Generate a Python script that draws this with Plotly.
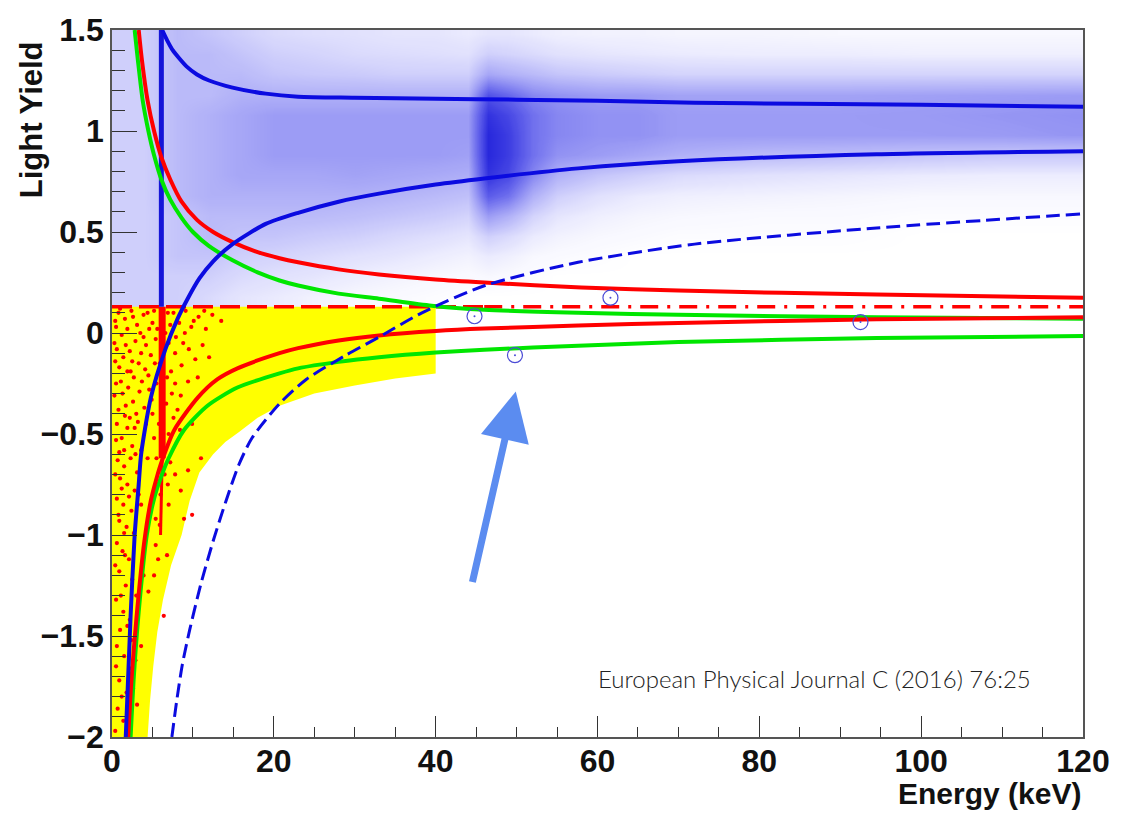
import numpy as np
import plotly.graph_objects as go

# ---------------- data ----------------
# blue event cloud (density, 0..10) above the 0.13 cut
cloud_x = [1, 4, 8, 12, 16, 20, 25, 30, 35, 40, 44, 46.5, 49, 52, 55, 60, 65, 70, 80, 90, 100, 110, 119]
cloud_y = [0.18, 0.28, 0.38, 0.48, 0.58, 0.68, 0.78, 0.88, 0.98, 1.08, 1.18, 1.28, 1.38, 1.48]
cloud_cols = [
    [2, 2, 2, 2, 2, 2, 2, 2, 2, 2, 2, 2, 2, 2],
    [2, 2, 2, 2, 2, 2, 2, 2, 2, 2, 2, 2, 2, 2],
    [2, 2, 2.5, 2.5, 2.5, 3, 3, 3, 3, 3, 3, 3, 3, 3],
    [1.5, 2, 2.5, 3, 3, 3.5, 3.5, 3.5, 3.5, 3.5, 3, 3, 3, 2.5],
    [1, 1.5, 2, 2.5, 3, 3.5, 4, 4, 4, 4, 3.5, 3, 2.5, 2],
    [0.8, 1.2, 1.8, 2.5, 3, 3.5, 4, 4.5, 4.5, 4.5, 3.5, 2.5, 2, 1.5],
    [0.5, 1, 1.5, 2.2, 3, 3.5, 4, 4.5, 4.5, 4.5, 3.5, 2.3, 1.8, 1.3],
    [0.3, 0.7, 1.2, 2, 2.8, 3.5, 4.2, 4.5, 4.5, 4.5, 3.5, 2.2, 1.5, 1.2],
    [0.2, 0.5, 1, 1.6, 2.5, 3.3, 4, 4.5, 4.5, 4.5, 3.5, 2, 1.4, 1],
    [0.1, 0.3, 0.7, 1.3, 2.2, 3, 3.8, 4.5, 4.5, 4.5, 3.5, 2, 1.3, 1],
    [0, 0.2, 0.5, 1, 1.8, 2.7, 3.6, 4.3, 4.5, 4.5, 3.5, 2, 1.2, 0.8],
    [0, 0.3, 0.8, 2, 4.5, 7.5, 9.5, 10, 10, 9.5, 8, 4, 2, 1],
    [0, 0.2, 0.6, 1.5, 3.5, 6.5, 8.5, 9, 9, 8.5, 7, 3.5, 1.8, 1],
    [0, 0.1, 0.3, 0.8, 1.8, 3.5, 5.5, 6.5, 6.5, 6.5, 5.5, 3, 1.5, 0.8],
    [0, 0, 0.2, 0.5, 1, 2, 3.5, 5, 5.5, 5.5, 5, 2.5, 1.2, 0.6],
    [0, 0, 0.1, 0.3, 0.6, 1.2, 2.5, 4.5, 5, 5, 4.5, 2.2, 1, 0.5],
    [0, 0, 0, 0.2, 0.4, 0.8, 2, 4, 5, 5, 4.5, 2, 0.9, 0.5],
    [0, 0, 0, 0.1, 0.3, 0.6, 1.5, 3.5, 4.5, 4.5, 4.2, 1.8, 0.8, 0.4],
    [0, 0, 0, 0.1, 0.2, 0.5, 1.2, 3, 4.5, 4.5, 4.2, 1.8, 0.7, 0.4],
    [0, 0, 0, 0.1, 0.2, 0.4, 1, 2.8, 4.5, 4.5, 4.2, 1.8, 0.7, 0.3],
    [0, 0, 0, 0, 0.1, 0.3, 0.8, 2.5, 4.5, 4.6, 4.3, 1.8, 0.6, 0.3],
    [0, 0, 0, 0, 0.1, 0.3, 0.7, 2.3, 4.6, 4.8, 4.4, 1.8, 0.6, 0.3],
    [0, 0, 0, 0, 0.1, 0.3, 0.7, 2.3, 4.8, 5, 4.5, 1.8, 0.6, 0.3],
]

# red events below the cut (energy keV, light yield)
red_events = [
    (0.8, 0.10), (1.6, 0.07), (2.4, 0.11), (3.1, 0.04), (3.9, 0.09), (4.6, 0.02), (5.2, 0.11), (7.6, 0.10),
    (8.3, 0.05), (9.1, 0.11), (9.8, 0.03), (10.7, 0.08), (11.6, 0.02), (12.4, 0.09), (13.5, 0.06), (7.9, -0.02),
    (8.8, -0.05), (1.2, -0.01), (2.9, -0.04), (4.2, -0.06), (5.0, 0.05), (0.5, 0.03),
    (0.6, -0.08), (1.4, -0.12), (2.2, -0.09), (3.3, -0.15), (4.1, -0.18), (4.8, -0.11), (7.8, -0.10), (8.6, -0.16),
    (9.5, -0.08), (10.3, -0.13), (11.2, -0.06), (1.9, -0.19), (2.7, -0.22), (0.9, -0.17), (3.6, -0.10), (7.3, -0.19),
    (12.0, -0.12),
    (0.5, -0.25), (1.3, -0.30), (2.0, -0.27), (2.6, -0.34), (3.4, -0.29), (4.0, -0.37), (0.8, -0.38), (1.7, -0.36),
    (7.8, -0.25), (8.5, -0.31), (9.4, -0.24), (10.6, -0.22), (3.0, -0.40), (4.6, -0.28),
    (0.6, -0.45), (1.2, -0.52), (1.9, -0.47), (2.5, -0.56), (3.2, -0.44), (3.6, -0.58), (0.9, -0.59), (2.2, -0.42),
    (7.6, -0.42), (8.4, -0.48), (9.9, -0.45),
    (0.7, -0.63), (1.5, -0.66), (2.3, -0.62), (3.1, -0.69), (1.0, -0.72), (1.9, -0.75), (2.8, -0.78), (0.6, -0.82),
    (1.4, -0.85), (2.4, -0.88), (3.3, -0.80), (0.9, -0.93), (1.8, -0.96), (2.7, -0.99), (7.2, -0.64), (7.8, -0.70),
    (8.5, -0.78), (9.4, -0.68), (11.0, -0.62), (7.0, -0.85), (5.4, -0.92), (8.9, -0.92), (9.9, -0.90),
    (0.6, -1.04), (1.3, -1.08), (2.1, -1.12), (0.9, -1.18), (1.7, -1.25), (2.5, -1.22), (0.5, -1.32), (1.4, -1.38),
    (2.2, -1.42), (3.0, -1.30), (3.9, -1.20), (5.4, -1.05), (4.5, -1.28), (5.7, -1.12), (6.4, -1.40), (1.0, -1.47),
    (0.6, -1.55), (1.5, -1.60), (2.2, -1.66), (0.9, -1.72), (1.8, -1.78), (2.6, -1.76), (0.7, -1.86), (1.4, -1.92),
    (2.3, -1.95), (3.1, -1.84), (3.6, -1.55), (2.9, -1.62),
    (0.4, 0.06), (1.0, 0.12), (1.9, 0.02), (2.6, 0.08), (3.5, 0.00), (4.4, 0.10), (5.4, -0.03), (0.3, -0.05),
    (1.7, -0.06), (2.5, -0.14), (3.9, -0.02), (4.5, -0.21), (5.3, -0.15), (0.4, -0.14), (1.1, -0.24), (2.3, -0.19),
    (3.7, -0.24), (4.9, -0.33), (0.3, -0.31), (1.6, -0.41), (2.8, -0.47), (4.2, -0.45), (5.2, -0.52), (0.5, -0.53),
    (1.5, -0.58), (2.9, -0.60), (4.4, -0.62), (0.4, -0.70), (1.2, -0.77), (2.1, -0.81), (3.6, -0.85), (0.8, -0.90),
    (1.5, -0.99), (5.0, -0.40), (5.5, -0.62), (7.0, -0.05), (7.2, 0.04), (7.4, -0.30), (7.0, -0.50), (6.9, -0.75),
    (5.3, -0.80), (6.9, 0.10), (8.1, -0.38), (9.0, 0.00), (10.1, 0.06), (11.4, 0.11), (6.8, -0.22), (5.5, -0.25),
    (5.6, 0.02), (0.4, -1.15), (1.1, -1.30), (1.9, -1.45), (0.5, -1.65), (1.2, -1.80), (0.4, -1.97), (1.6, -1.10),
    (2.4, -1.52), (5.9, -0.95), (6.8, -1.10), (5.2, -1.20), (6.0, -0.80), (6.5, -0.70), (5.8, -0.45), (6.7, -0.35),
    (5.9, -0.15), (6.6, 0.00),
]

# dense event column near 6 keV
col_blue_x = [6.1, 6.1]
col_blue_y = [0.13, 1.5]
col_red_x = [6.2, 6.2, 6.0]
col_red_y = [0.13, -0.62, -1.0]

# acceptance region (yellow)
acc_x = [0, 40, 40, 35, 30, 25, 20.7, 18, 15.7, 14, 12.5, 10.8, 9.6, 8.6, 7.3, 6.3, 5.6, 5.1, 4.7, 4.4, 0]
acc_y = [0.13, 0.13, -0.2, -0.225, -0.26, -0.30, -0.36, -0.42, -0.49, -0.54, -0.60, -0.69, -0.83, -1.0, -1.15,
         -1.32, -1.48, -1.65, -1.82, -2.0, -2.0]
cut_level = 0.13

# bands
blue_up_x = [6.2, 6.8, 7.5, 8.3, 9.2, 10.5, 12, 14.9, 19, 23, 30, 40, 50, 60, 72, 85, 100, 120]
blue_up_y = [1.5, 1.45, 1.40, 1.36, 1.32, 1.28, 1.25, 1.215, 1.185, 1.17, 1.165, 1.16, 1.155, 1.15, 1.14, 1.135, 1.13, 1.12]
blue_lo_x = [1.7, 2.3, 2.8, 3.3, 3.6, 4.8, 6.6, 8.1, 9.3, 10.8, 12.5, 14.9, 19, 23, 28, 33, 40, 46, 57.6, 70, 94.5, 120]
blue_lo_y = [-2.0, -1.4, -1.0, -0.75, -0.6, -0.32, -0.08, 0.07, 0.166, 0.27, 0.355, 0.44, 0.54, 0.595, 0.65, 0.69,
             0.735, 0.765, 0.815, 0.85, 0.885, 0.90]
blue_dash_x = [7.4, 8.0, 8.7, 9.6, 11, 12.5, 14.1, 15.7, 17.3, 20.7, 24, 28.9, 33, 38.3, 46.1, 57.6, 72, 94.5, 120]
blue_dash_y = [-2.0, -1.82, -1.64, -1.47, -1.24, -1.03, -0.83, -0.65, -0.52, -0.35, -0.23, -0.11, -0.02, 0.10,
               0.235, 0.35, 0.44, 0.52, 0.59]
red_up_x = [3.3, 3.7, 4.4, 5.2, 6.1, 7.2, 8.6, 10.5, 12.5, 14.9, 18, 20.7, 23, 28, 33, 40, 46, 58, 70, 94.5, 120]
red_up_y = [1.5, 1.35, 1.15, 1.0, 0.87, 0.76, 0.65, 0.56, 0.50, 0.45, 0.40, 0.37, 0.35, 0.315, 0.29, 0.265, 0.25,
            0.225, 0.21, 0.19, 0.175]
green_up_x = [2.8, 3.2, 3.8, 4.5, 5.2, 6.1, 7.2, 8.6, 10, 12, 14.9, 18, 20.7, 23, 28, 33, 39.5, 46, 57.6, 70, 94.5, 120]
green_up_y = [1.5, 1.35, 1.15, 1.0, 0.88, 0.76, 0.66, 0.57, 0.50, 0.43, 0.36, 0.30, 0.26, 0.235, 0.195, 0.17, 0.135,
              0.115, 0.10, 0.09, 0.078, 0.07]
red_lo_x = [2.0, 2.4, 3.0, 4.0, 4.8, 5.5, 6.2, 7.7, 10.6, 13, 15.5, 20.7, 23, 28, 33, 40, 46, 57.6, 70, 94.5, 120]
red_lo_y = [-2.0, -1.72, -1.42, -1.03, -0.83, -0.72, -0.63, -0.48, -0.32, -0.23, -0.175, -0.1, -0.075, -0.037,
            -0.012, 0.01, 0.022, 0.037, 0.05, 0.068, 0.078]
green_lo_x = [2.3, 2.7, 3.3, 4.3, 5.2, 6.0, 7.0, 8.9, 11.8, 15.5, 20.7, 23, 28, 33, 40, 46, 57.6, 70, 94.5, 120]
green_lo_y = [-2.0, -1.7, -1.38, -1.0, -0.82, -0.72, -0.62, -0.48, -0.36, -0.27, -0.2, -0.175, -0.143, -0.12,
              -0.097, -0.083, -0.063, -0.045, -0.025, -0.015]

# candidate events (open circles)
cand_x = [44.8, 49.8, 61.6, 92.5]
cand_y = [0.083, -0.11, 0.175, 0.054]

# arrow (tail -> head)
arrow_tail = (44.5, -1.24)
arrow_head = (49.9, -0.29)

note_text = "European Physical Journal C (2016) 76:25"

# ---------------- figure ----------------
BLUE = "#0b0be0"
RED = "#ff0000"
GREEN = "#00e600"

fig = go.Figure()

z = np.array(cloud_cols).T
fig.add_trace(go.Heatmap(
    x=cloud_x, y=cloud_y, z=z, zmin=0, zmax=10, zsmooth="best", showscale=False, hoverinfo="skip",
    colorscale=[[0, "rgba(20,20,240,0)"], [0.1, "rgba(20,20,240,0.11)"], [0.25, "rgba(20,20,235,0.25)"],
                [0.45, "rgba(20,20,230,0.42)"], [0.7, "rgba(15,15,225,0.64)"], [1, "rgba(10,10,215,0.88)"]],
))

fig.add_trace(go.Scatter(x=acc_x, y=acc_y, fill="toself", fillcolor="#ffff00", mode="none", hoverinfo="skip"))

fig.add_trace(go.Scatter(x=[p[0] for p in red_events], y=[p[1] for p in red_events], mode="markers",
                         marker=dict(color=RED, size=4.2, line=dict(width=0)), hoverinfo="skip"))

fig.add_trace(go.Scatter(x=col_red_x[:2], y=col_red_y[:2], mode="lines", line=dict(color=RED, width=7)))
fig.add_trace(go.Scatter(x=col_red_x[1:], y=col_red_y[1:], mode="lines", line=dict(color=RED, width=3)))
fig.add_trace(go.Scatter(x=col_blue_x, y=col_blue_y, mode="lines", line=dict(color="#1515d8", width=5)))

# cut line
fig.add_trace(go.Scatter(x=[0, 46], y=[cut_level, cut_level], mode="lines",
                         line=dict(color=RED, width=3.5, dash="20px,7px")))
fig.add_trace(go.Scatter(x=[46, 120], y=[cut_level, cut_level], mode="lines",
                         line=dict(color=RED, width=3.5, dash="18px,9px,3px,9px")))


def curve(x, y, color, dash=None, width=4):
    fig.add_trace(go.Scatter(x=x, y=y, mode="lines",
                             line=dict(color=color, width=width, dash=dash, shape="spline", smoothing=0.7)))


curve(green_up_x, green_up_y, GREEN)
curve(green_lo_x, green_lo_y, GREEN)
curve(red_up_x, red_up_y, RED)
curve(red_lo_x, red_lo_y, RED)
curve(blue_up_x, blue_up_y, BLUE)
curve(blue_lo_x, blue_lo_y, BLUE)
curve(blue_dash_x, blue_dash_y, BLUE, dash="14px,6px", width=3)

fig.add_trace(go.Scatter(x=cand_x, y=cand_y, mode="markers",
                         marker=dict(symbol="circle-open", size=15, color="#4b4bd6", line=dict(width=1.2))))
fig.add_trace(go.Scatter(x=cand_x, y=cand_y, mode="markers", marker=dict(size=2, color="#4b4bd6")))

fig.add_annotation(x=arrow_head[0], y=arrow_head[1], ax=arrow_tail[0], ay=arrow_tail[1],
                   xref="x", yref="y", axref="x", ayref="y", text="", showarrow=True,
                   arrowhead=2, arrowsize=1.4, arrowwidth=7, arrowcolor="#5b8cf0", standoff=0)

fig.add_annotation(x=113.8, y=-1.71, xref="x", yref="y", text=note_text, showarrow=False,
                   xanchor="right", yanchor="middle",
                   font=dict(family="Lato", size=24, color="#222", weight=300))

fig.add_annotation(x=-0.083, y=0.873, xref="paper", yref="paper", text="Light Yield", showarrow=False,
                   textangle=-90, xanchor="center", yanchor="middle",
                   font=dict(family="Liberation Sans", size=31, color="#111", weight="bold"))
fig.add_annotation(x=1.0, y=-0.0797, xref="paper", yref="paper", text="Energy (keV)", showarrow=False,
                   xanchor="right", yanchor="middle",
                   font=dict(family="Liberation Sans", size=30, color="#111", weight="bold"))

tickfont = dict(family="Liberation Sans", size=32, color="#111", weight="bold")
fig.update_xaxes(range=[0, 120], dtick=20, tick0=0, ticks="inside", ticklen=21, tickcolor="#333", tickwidth=1,
                 minor=dict(dtick=5, ticks="inside", ticklen=10, tickcolor="#333", tickwidth=1),
                 showgrid=False, zeroline=False, showline=True, linecolor="#555", linewidth=1.5, mirror=True,
                 tickfont=tickfont, ticklabelstandoff=-5)
fig.update_yaxes(range=[-2, 1.5], dtick=0.5, tick0=0, ticks="inside", ticklen=25, tickcolor="#333", tickwidth=1,
                 minor=dict(dtick=0.1, ticks="inside", ticklen=13, tickcolor="#333", tickwidth=1),
                 showgrid=False, zeroline=False, showline=True, linecolor="#555", linewidth=1.5, mirror=True,
                 tickfont=tickfont)

fig.update_layout(width=1122, height=813, margin=dict(l=112, r=34, t=22, b=76),
                  paper_bgcolor="white", plot_bgcolor="white", showlegend=False)

fig.write_html("out.html")
